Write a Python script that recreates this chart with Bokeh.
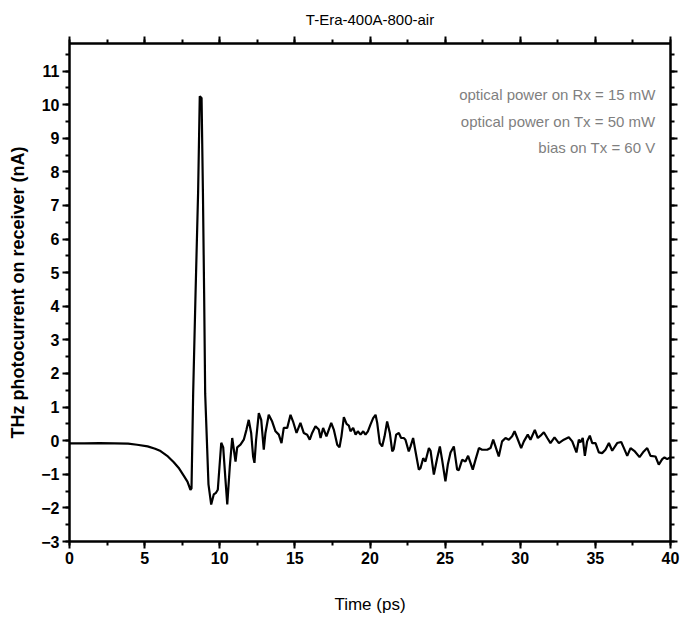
from bokeh.plotting import figure
from bokeh.models import Range1d, LinearAxis, SingleIntervalTicker, Label, CustomJSTickFormatter
from bokeh.embed import file_html
from bokeh.resources import INLINE

# ---------------- data ----------------
chart_title = "T-Era-400A-800-air"
x_label = "Time (ps)"
y_label = "THz photocurrent on receiver (nA)"
notes = ["optical power on Rx = 15 mW",
         "optical power on Tx = 50 mW",
         "bias on Tx = 60 V"]

time_ps = [
    0.0, 1.0, 2.0, 3.0, 3.9, 4.5, 5.2, 5.7, 6.06, 6.5, 6.94, 7.3, 7.6, 7.85, 8.05, 8.12,
    8.23, 8.39, 8.56, 8.67, 8.79, 8.88, 8.96, 9.03, 9.25, 9.43, 9.6, 9.75, 9.87, 10.1,
    10.23, 10.38, 10.5, 10.67, 10.83, 11.05, 11.16, 11.38, 11.6, 11.78, 11.93,
    12.09, 12.22, 12.31, 12.42, 12.6, 12.76, 12.93, 13.04, 13.26, 13.49, 13.71, 13.93,
    14.11, 14.26, 14.49, 14.71, 14.88, 15.11, 15.37, 15.59, 15.82, 15.99, 16.15, 16.37,
    16.59, 16.71, 16.88, 17.1, 17.26, 17.42, 17.59, 17.82, 17.97, 18.1, 18.26, 18.44,
    18.59, 18.7, 18.88, 19.04, 19.19, 19.37, 19.55, 19.7, 19.86, 20.03, 20.21, 20.37,
    20.48, 20.65, 20.81, 20.97, 21.14, 21.32, 21.48, 21.58, 21.74, 21.92, 22.07, 22.25,
    22.36, 22.58, 22.7, 22.87, 23.03, 23.25, 23.36, 23.54, 23.69, 23.92, 24.03, 24.25,
    24.47, 24.65, 24.8, 25.02, 25.18, 25.36, 25.58, 25.8, 25.91, 26.13, 26.35, 26.53,
    26.84, 27.02, 27.25, 27.46, 27.8, 28.02, 28.2, 28.35, 28.57, 28.79, 29.02, 29.24,
    29.46, 29.62, 29.8, 30.06, 30.24, 30.5, 30.68, 30.97, 31.17, 31.35, 31.57, 31.8,
    32.01, 32.28, 32.57, 32.9, 33.23, 33.46, 33.74, 33.9, 34.01, 34.16, 34.3, 34.45,
    34.63, 34.79, 35.01, 35.23, 35.45, 35.67, 35.9, 36.12, 36.45, 36.72, 36.9, 37.12,
    37.34, 37.63, 37.94, 38.22, 38.45, 38.67, 39.0, 39.22, 39.45, 39.6, 39.78, 40.0,
]

current_nA = [
    -0.08, -0.08, -0.07, -0.08, -0.09, -0.12, -0.17, -0.24, -0.31, -0.45, -0.64, -0.83, -1.04, -1.22, -1.46, -1.42,
    1.4, 4.4, 7.4, 10.25, 10.2, 7.4, 4.4, 1.4, -1.3, -1.9, -1.6, -1.55, -1.46, -0.06,
    -0.2, -1.16, -1.9, -0.76, 0.08, -0.62, -0.2, -0.12, 0.03, 0.33, 0.62,
    0.23, -0.47, -0.66, 0.03, 0.82, 0.62, -0.27, 0.23, 0.77, 0.57, 0.28, 0.18,
    -0.07, 0.38, 0.38, 0.77, 0.57, 0.23, 0.53, 0.23, 0.18, 0.03, 0.23, 0.43,
    0.33, 0.08, 0.38, 0.13, 0.33, 0.53, 0.33, -0.12, -0.2, 0.13, 0.7, 0.5,
    0.45, 0.28, 0.38, 0.18, 0.28, 0.18, 0.28, 0.18, 0.28, 0.48, 0.67, 0.77,
    0.53, -0.07, -0.17, 0.13, 0.57, 0.23, -0.32, -0.25, 0.18, 0.23, 0.08, 0.08,
    0.03, -0.32, -0.17, 0.08, -0.32, -0.86, -0.82, -0.52, -0.62, -0.22, -0.3, -1.01,
    -0.52, -0.17, -0.57, -1.21, -0.71, -0.35, -0.17, -0.86, -0.88, -0.57, -0.62, -0.45,
    -0.86, -0.57, -0.22, -0.27, -0.27, -0.22, 0.03, -0.17, -0.47, -0.02, 0.08, 0.03,
    0.13, 0.28, 0.08, -0.22, -0.02, 0.18, 0.03, 0.32, 0.08, 0.15, 0.25, 0.08,
    -0.07, 0.1, -0.07, 0.03, 0.1, -0.02, -0.35, 0.03, -0.05, 0.08, -0.45, -0.02,
    0.15, -0.07, -0.07, -0.35, -0.37, -0.27, -0.07, -0.3, -0.07, -0.04, -0.22, -0.45,
    -0.22, -0.32, -0.49, -0.32, -0.22, -0.45, -0.47, -0.71, -0.55, -0.5, -0.55, -0.49,
]

x_start, x_end, x_major = 0, 40, 5
y_start, y_end, y_major = -3, 11.82, 1

assert len(time_ps) == len(current_nA)

# ---------------- styling ----------------
NARROW = "'Liberation Sans Narrow', 'Liberation Sans', Arial, sans-serif"
REG = "'Liberation Sans', Arial, sans-serif"

p = figure(width=700, height=640, output_backend="svg", toolbar_location=None,
           x_range=Range1d(x_start, x_end), y_range=Range1d(y_start, y_end),
           min_border_left=69, min_border_right=30, min_border_top=43,
           min_border_bottom=99, background_fill_color="white",
           border_fill_color="white", outline_line_color="black",
           outline_line_width=2)

p.title.text = chart_title
p.title.align = "center"
p.title.vertical_align = "top"
p.title.text_font = NARROW
p.title.text_font_style = "normal"
p.title.text_font_size = "15px"
p.title.text_color = "black"
p.title.offset = -20
p.title.standoff = 14

p.xgrid.visible = False
p.ygrid.visible = False

p.line(time_ps, current_nA, line_color="black", line_width=2.2)


def style_axis(ax, labels=True):
    ax.axis_line_width = 2
    ax.major_tick_line_width = 2
    ax.minor_tick_line_width = 2
    ax.major_tick_out = 7
    ax.major_tick_in = 0
    ax.minor_tick_out = 4
    ax.minor_tick_in = 0
    ax.major_label_text_font = NARROW
    ax.major_label_text_font_style = "bold"
    ax.major_label_text_font_size = "16px"
    ax.major_label_text_color = "black"
    if not labels:
        ax.formatter = CustomJSTickFormatter(code="return ''")
        ax.major_label_standoff = 0


xb = p.xaxis[0]
xb.ticker = SingleIntervalTicker(interval=x_major, num_minor_ticks=2)
style_axis(xb)
xb.major_label_standoff = 3
xb.axis_label = x_label
xb.axis_label_text_font = NARROW
xb.axis_label_text_font_style = "normal"
xb.axis_label_text_font_size = "17px"
xb.axis_label_text_color = "black"
xb.axis_label_standoff = 28

yl = p.yaxis[0]
yl.ticker = SingleIntervalTicker(interval=y_major, num_minor_ticks=2)
style_axis(yl)
yl.major_label_standoff = 3
yl.axis_label = y_label
yl.axis_label_text_font = REG
yl.axis_label_text_font_style = "bold"
yl.axis_label_text_font_size = "18px"
yl.axis_label_text_color = "black"
yl.axis_label_standoff = 10

xt = LinearAxis(ticker=SingleIntervalTicker(interval=x_major, num_minor_ticks=2))
style_axis(xt, labels=False)
p.add_layout(xt, "above")

yr = LinearAxis(ticker=SingleIntervalTicker(interval=y_major, num_minor_ticks=2))
style_axis(yr, labels=False)
p.add_layout(yr, "right")

note_y = [10.3, 9.5, 8.72]
for txt, yy in zip(notes, note_y):
    p.add_layout(Label(x=39.0, y=yy, text=txt, text_align="right",
                       text_baseline="middle", text_font=NARROW,
                       text_font_size="15px", text_color="#7f7f7f"))

open("out.html", "w").write(file_html(p, INLINE))
